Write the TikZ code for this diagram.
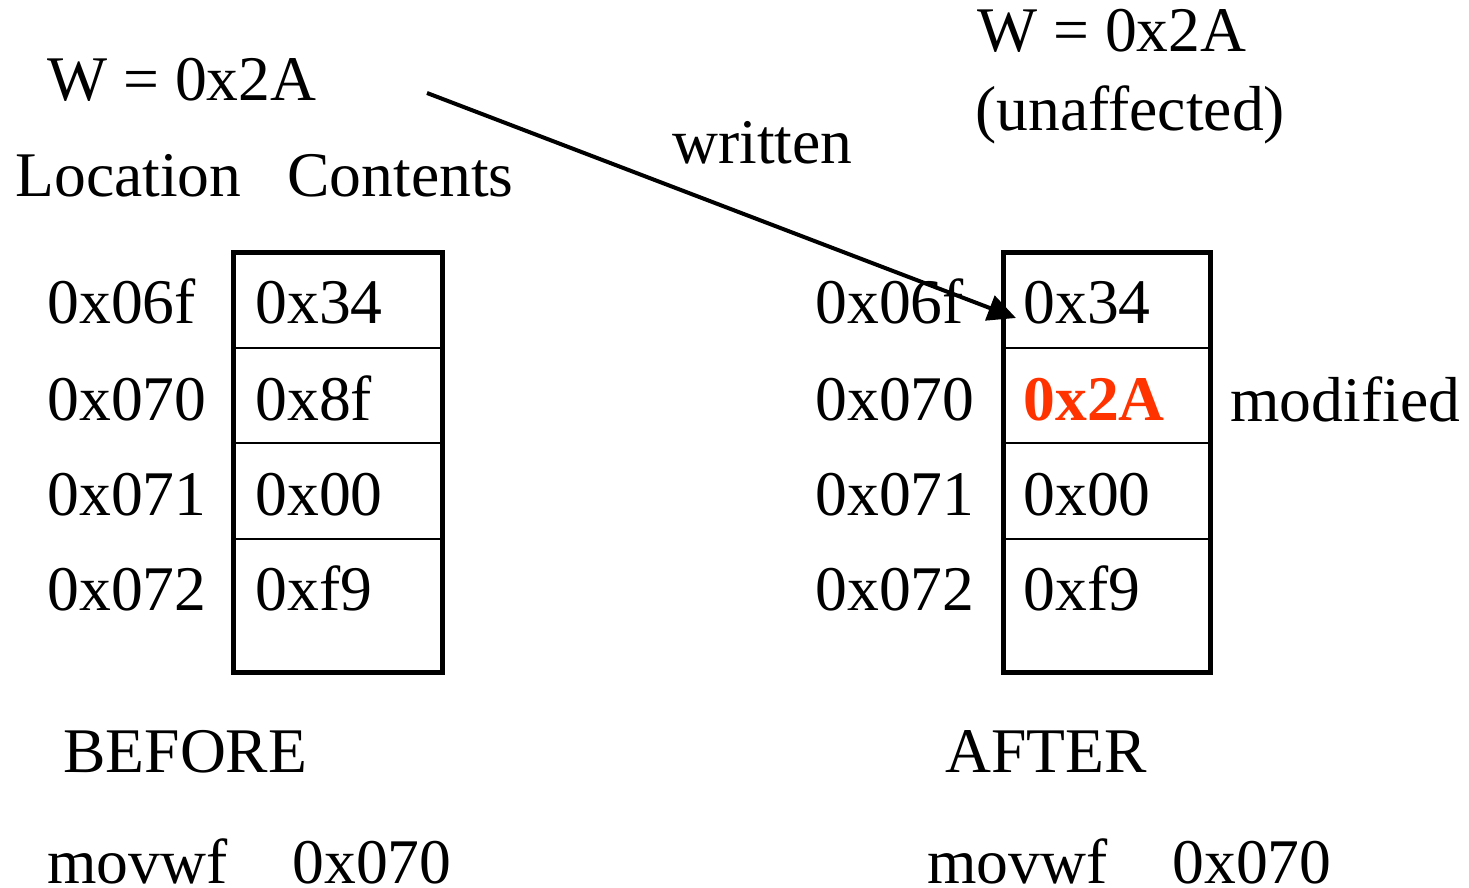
\documentclass[tikz,border=0pt]{standalone}
\usepackage{fontspec}
\setmainfont{Liberation Serif}
\usetikzlibrary{arrows.meta}
\definecolor{modred}{HTML}{FF3300}
\begin{document}
\begin{tikzpicture}[x=0.5pt,y=-0.5pt,
  txt/.style={anchor=base west,inner sep=0pt,font=\fontsize{31.8}{38}\selectfont},
  outer/.style={line width=2.5pt,line cap=round},
  inner/.style={line width=1pt},
  arr/.style={line width=2pt,-{Triangle[length=14pt,width=13pt]}}]
\useasboundingbox (0,0) rectangle (1469,888);
% headings
\node[txt] (wl) at (47,101) {W = 0x2A};
\node[txt] (loc) at (15,197) {Location};
\node[txt] (cont) at (287,197) {Contents};
\node[txt] (wr) at (977,52) {W = 0x2A};
\node[txt] (unaff) at (975,131) {(unaffected)};
\node[txt] (wri) at (672,163) {written};
% left box
\draw[outer] (233,253) rectangle (442,672);
\draw[inner] (233,348) -- (442,348) (233,443) -- (442,443) (233,539) -- (442,539);
% right box
\draw[outer] (1003,253) rectangle (1210,672);
\draw[inner] (1003,348) -- (1210,348) (1003,443) -- (1210,443) (1003,539) -- (1210,539);
% left rows
\node[txt] (la1) at (47,323) {0x06f};
\node[txt] (la2) at (47,420) {0x070};
\node[txt] (la3) at (47,515) {0x071};
\node[txt] (la4) at (47,610) {0x072};
\node[txt] (lc1) at (255,323) {0x34};
\node[txt] (lc2) at (255,420) {0x8f};
\node[txt] (lc3) at (255,515) {0x00};
\node[txt] (lc4) at (255,610) {0xf9};
% right rows
\node[txt] (ra1) at (815,323) {0x06f};
\node[txt] (ra2) at (815,420) {0x070};
\node[txt] (ra3) at (815,515) {0x071};
\node[txt] (ra4) at (815,610) {0x072};
\node[txt] (rc1) at (1023,323) {0x34};
\node[txt,text=modred,font=\fontsize{31.8}{38}\selectfont\bfseries] (rc2) at (1023,420) {0x2A};
\node[txt] (rc3) at (1023,515) {0x00};
\node[txt] (rc4) at (1023,610) {0xf9};
\node[txt] (mod) at (1230,421) {modified};
% bottom labels
\node[txt] (bef) at (63,772) {BEFORE};
\node[txt] (aft) at (945,772) {AFTER};
\node[txt] (mv1) at (47,883) {movwf};
\node[txt] (ad1) at (292,883) {0x070};
\node[txt] (mv2) at (927,883) {movwf};
\node[txt] (ad2) at (1172,883) {0x070};
% arrow
\coordinate (src) at (427,93);
\coordinate (tgt) at (1016,318);
\draw[arr] (src) -- (tgt);
\end{tikzpicture}
\end{document}
